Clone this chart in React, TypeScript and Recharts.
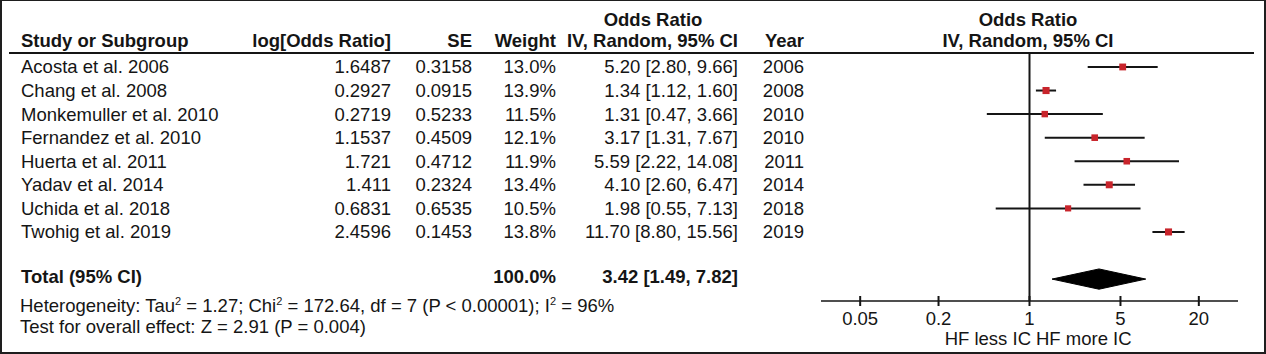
import React from 'react';
import { ComposedChart, XAxis, YAxis, Scatter, ErrorBar, Area, ReferenceLine, Customized } from 'recharts';

const FONT = '"Liberation Sans", Arial, Helvetica, sans-serif';
const FS = 18.5;
const INK = '#151515';

// study rows
const studies = [
  'Acosta et al. 2006',
  'Chang et al. 2008',
  'Monkemuller et al. 2010',
  'Fernandez et al. 2010',
  'Huerta et al. 2011',
  'Yadav et al. 2014',
  'Uchida et al. 2018',
  'Twohig et al. 2019',
];
const logOR = ['1.6487', '0.2927', '0.2719', '1.1537', '1.721', '1.411', '0.6831', '2.4596'];
const seVals = ['0.3158', '0.0915', '0.5233', '0.4509', '0.4712', '0.2324', '0.6535', '0.1453'];
const weights = [13.0, 13.9, 11.5, 12.1, 11.9, 13.4, 10.5, 13.8];
const orVals = [5.2, 1.34, 1.31, 3.17, 5.59, 4.1, 1.98, 11.7];
const ciLow = [2.8, 1.12, 0.47, 1.31, 2.22, 2.6, 0.55, 8.8];
const ciHigh = [9.66, 1.6, 3.66, 7.67, 14.08, 6.47, 7.13, 15.56];
const years = [2006, 2008, 2010, 2010, 2011, 2014, 2018, 2019];
const rowIndex = [0, 1, 2, 3, 4, 5, 6, 7];

// pooled estimate
const totalRow = 9;
const totalOR = 3.42;
const totalLow = 1.49;
const totalHigh = 7.82;
const totalWeight = 100.0;

const axisTicks = [0.05, 0.2, 1, 5, 20];

const COL = { name: 21, logOR: 391, se: 472, weight: 556, ci: 738, year: 804 };

const fmtCI = (o: number, lo: number, hi: number) => `${o.toFixed(2)} [${lo.toFixed(2)}, ${hi.toFixed(2)}]`;

const studyData = studies.map((name, i) => ({
  name,
  x: orVals[i],
  y: rowIndex[i],
  w: weights[i],
  err: [orVals[i] - ciLow[i], ciHigh[i] - orVals[i]],
}));

const diamondHalf = 0.43;
const diamondData = [
  { x: totalLow, r: [totalRow, totalRow] },
  { x: totalOR, r: [totalRow - diamondHalf, totalRow + diamondHalf] },
  { x: totalHigh, r: [totalRow, totalRow] },
];

const RowTick = (props: any) => {
  const { y, payload } = props;
  const v = payload.value;
  const t = { fontFamily: FONT, fontSize: FS, fill: INK };
  if (v === totalRow) {
    const ty = y - 3;
    return (
      <g style={t} fontWeight="bold">
        <text x={COL.name} y={ty} dy="0.35em" textAnchor="start">Total (95% CI)</text>
        <text x={COL.weight} y={ty} dy="0.35em" textAnchor="end">{totalWeight.toFixed(1)}%</text>
        <text x={COL.ci} y={ty} dy="0.35em" textAnchor="end">{fmtCI(totalOR, totalLow, totalHigh)}</text>
      </g>
    );
  }
  const i = rowIndex.indexOf(v);
  if (i < 0) return null;
  return (
    <g style={t}>
      <text x={COL.name} y={y} dy="0.35em" textAnchor="start">{studies[i]}</text>
      <text x={COL.logOR} y={y} dy="0.35em" textAnchor="end">{logOR[i]}</text>
      <text x={COL.se} y={y} dy="0.35em" textAnchor="end">{seVals[i]}</text>
      <text x={COL.weight} y={y} dy="0.35em" textAnchor="end">{weights[i].toFixed(1)}%</text>
      <text x={COL.ci} y={y} dy="0.35em" textAnchor="end">{fmtCI(orVals[i], ciLow[i], ciHigh[i])}</text>
      <text x={COL.year} y={y} dy="0.35em" textAnchor="end">{years[i]}</text>
    </g>
  );
};

const AxisTick = (props: any) => {
  const { x, y, payload } = props;
  return (
    <g>
      <line x1={x} x2={x} y1={y - 5} y2={y + 5} stroke={INK} strokeWidth={2} />
      <text x={x} y={y + 18} dy="0.35em" textAnchor="middle" style={{ fontFamily: FONT, fontSize: FS, fill: INK }}>
        {payload.value}
      </text>
    </g>
  );
};

const Marker = (props: any) => {
  const { cx, cy, payload } = props;
  if (cx == null || cy == null) return null;
  const s = 1.9 * Math.sqrt(payload.w);
  return <rect x={cx - s / 2} y={cy - s / 2} width={s} height={s} fill="#c8242b" />;
};

const Sup = ({ children }: { children: React.ReactNode }) => (
  <tspan fontSize={11} dy={-7}>{children}</tspan>
);
const Down = ({ children }: { children: React.ReactNode }) => <tspan dy={7}>{children}</tspan>;

const Chrome = () => {
  const t = { fontFamily: FONT, fontSize: FS, fill: INK };
  return (
    <g>
      {/* header */}
      <g style={t} fontWeight="bold">
        <text x={653} y={20} dy="0.35em" textAnchor="middle">Odds Ratio</text>
        <text x={1028} y={20} dy="0.35em" textAnchor="middle">Odds Ratio</text>
        <text x={COL.name} y={41} dy="0.35em" textAnchor="start">Study or Subgroup</text>
        <text x={COL.logOR} y={41} dy="0.35em" textAnchor="end">log[Odds Ratio]</text>
        <text x={COL.se} y={41} dy="0.35em" textAnchor="end">SE</text>
        <text x={COL.weight} y={41} dy="0.35em" textAnchor="end">Weight</text>
        <text x={COL.ci} y={41} dy="0.35em" textAnchor="end">IV, Random, 95% CI</text>
        <text x={COL.year} y={41} dy="0.35em" textAnchor="end">Year</text>
        <text x={1028} y={41} dy="0.35em" textAnchor="middle">IV, Random, 95% CI</text>
      </g>
      <line x1={9} x2={1254} y1={53} y2={53} stroke={INK} strokeWidth={2} />
      {/* footer */}
      <g style={t}>
        <text x={20} y={306} dy="0.35em">
          Heterogeneity: Tau<Sup>2</Sup><Down> = 1.27; Chi</Down><Sup>2</Sup>
          <Down> = 172.64, df = 7 (P &lt; 0.00001); I</Down><Sup>2</Sup><Down> = 96%</Down>
        </text>
        <text x={20} y={327} dy="0.35em">Test for overall effect: Z = 2.91 (P = 0.004)</text>
        <text x={1031} y={339} dy="0.35em" textAnchor="end">HF less IC</text>
        <text x={1036} y={339} dy="0.35em" textAnchor="start">HF more IC</text>
      </g>
    </g>
  );
};

export default function App() {
  return (
    <div style={{ position: 'absolute', left: 0, top: 0, width: 1266, height: 354, background: '#fff', fontFamily: FONT }}>
      <ComposedChart width={1266} height={354} margin={{ top: 54, right: 28, bottom: 13, left: 820 }}>
        <XAxis
          dataKey="x"
          type="number"
          scale="log"
          domain={[0.025, 40]}
          allowDataOverflow
          ticks={axisTicks}
          interval={0}
          height={40}
          tickSize={0}
          tickMargin={0}
          tickLine={false}
          axisLine={{ stroke: INK, strokeWidth: 1.5 }}
          tick={<AxisTick />}
        />
        <YAxis
          dataKey="y"
          type="number"
          domain={[-0.55, 9.93]}
          reversed
          allowDataOverflow
          ticks={[...rowIndex, totalRow]}
          interval={0}
          width={1}
          tickSize={0}
          tickLine={false}
          axisLine={false}
          tick={<RowTick />}
        />
        <ReferenceLine x={1} stroke={INK} strokeWidth={2} />
        <Area
          data={diamondData}
          dataKey="r"
          type="linear"
          fill="#000"
          fillOpacity={1}
          stroke="#000"
          strokeWidth={1}
          isAnimationActive={false}
          activeDot={false}
          dot={false}
        />
        <Scatter data={studyData} shape={<Marker />} isAnimationActive={false}>
          <ErrorBar dataKey="err" direction="x" width={0} stroke={INK} strokeWidth={2} />
        </Scatter>
        <Customized component={Chrome} />
      </ComposedChart>
      <div
        style={{
          position: 'absolute',
          inset: 0,
          borderStyle: 'solid',
          borderColor: '#1e1e1e',
          borderWidth: '1px 2px 2px 2px',
          pointerEvents: 'none',
        }}
      />
    </div>
  );
}
